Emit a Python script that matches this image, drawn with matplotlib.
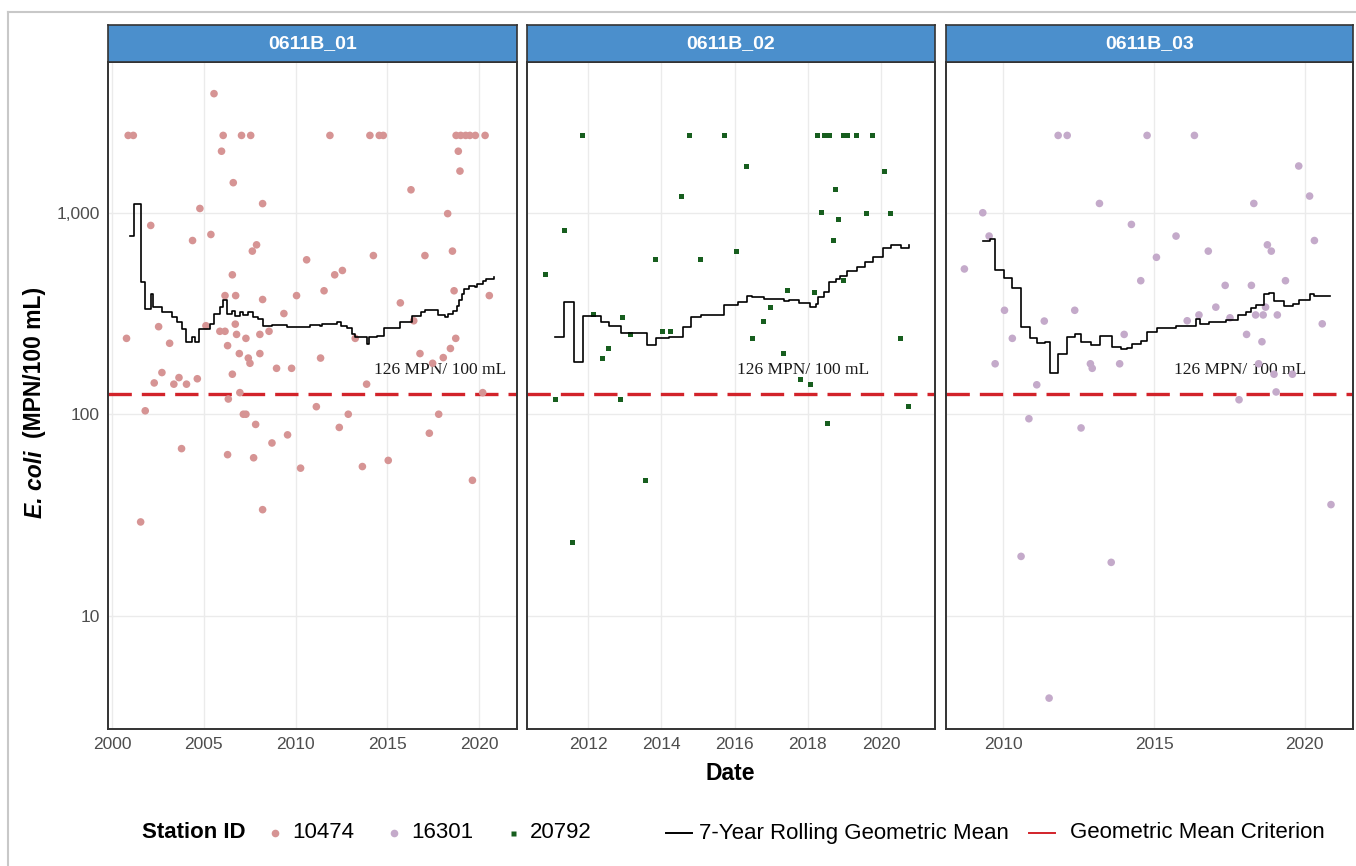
import matplotlib
matplotlib.use("Agg")
import matplotlib.pyplot as plt
from matplotlib.lines import Line2D
from matplotlib.ticker import FixedLocator, FuncFormatter, MultipleLocator, NullLocator

plt.rcParams["font.family"] = ["Liberation Sans", "DejaVu Sans"]

# ---- data: E. coli samples (decimal year, MPN/100 mL) ----
st10474_year = [2000.87, 2001.15, 2006.05, 2007.05, 2007.55, 2011.87, 2014.05, 2014.56, 2014.78,
                2018.75, 2019.0, 2019.27, 2019.5, 2019.8, 2020.33,
                2005.55, 2005.96, 2006.6, 2008.2, 2004.78, 2002.1, 2004.38, 2005.38, 2007.87, 2007.64,
                2018.87, 2018.96, 2016.29, 2018.29, 2018.55, 2017.05, 2014.24, 2010.6, 2012.55, 2012.13,
                2006.55, 2011.55, 2018.64, 2010.05, 2006.15, 2006.73, 2020.56, 2008.2, 2015.71, 2009.36,
                2016.44, 2005.11, 2002.53, 2006.71, 2008.55, 2005.87, 2006.15, 2006.78, 2008.05, 2007.29,
                2013.25, 2000.78, 2018.73, 2003.13, 2018.44, 2006.29, 2018.05, 2016.78, 2006.93, 2008.05,
                2011.36, 2007.42, 2007.51, 2017.47, 2008.96, 2009.78, 2002.71, 2003.64, 2002.29, 2003.36,
                2004.05, 2004.64, 2006.55, 2013.87, 2020.2, 2006.96, 2006.33, 2001.8, 2011.13, 2007.15,
                2007.29, 2012.87, 2017.8, 2007.82, 2012.38, 2017.29, 2009.56, 2003.78, 2006.29, 2007.71,
                2008.71, 2010.27, 2013.64, 2015.05, 2019.64, 2008.2, 2001.55]
st10474_ecoli = [2420, 2420, 2420, 2420, 2420, 2420, 2420, 2420, 2420,
                 2420, 2420, 2420, 2420, 2420, 2420,
                 3900, 2020, 1410, 1110, 1050, 865, 728, 780, 693, 645,
                 2020, 1610, 1300, 990, 645, 613, 613, 584, 517, 492,
                 492, 410, 410, 388, 388, 388, 388, 371, 357, 316,
                 291, 275, 272, 280, 258, 258, 258, 249, 249, 238,
                 238, 238, 238, 225, 212, 219, 191, 200, 200, 200,
                 190, 190, 179, 179, 169, 169, 161, 152, 143, 141,
                 141, 150, 158, 141, 128, 128, 119, 104, 109, 100,
                 100, 100, 100, 89, 86, 80.5, 79, 67.5, 63, 60.8,
                 72, 54, 55, 59, 47, 33.6, 29.2]

st20792_year = [2011.85, 2014.78, 2015.73, 2018.27, 2018.45, 2018.58, 2018.98, 2019.09, 2019.32, 2019.75,
                2016.32, 2020.09, 2014.56, 2018.74, 2018.37, 2019.59, 2020.25, 2018.83, 2011.35, 2018.7,
                2016.06, 2010.84, 2013.85, 2015.06, 2018.96, 2017.45, 2018.19, 2016.99, 2012.15, 2012.94,
                2016.78, 2013.15, 2014.02, 2014.24, 2016.49, 2020.54, 2012.56, 2012.39, 2017.33, 2017.79,
                2018.08, 2011.1, 2012.89, 2020.75, 2018.54, 2013.56, 2011.56]
st20792_ecoli = [2420, 2420, 2420, 2420, 2420, 2420, 2420, 2420, 2420, 2420,
                 1706, 1610, 1210, 1297, 1004, 990, 990, 923, 820, 728,
                 645, 492, 584, 584, 460, 410, 403, 340, 312, 301,
                 290, 249, 258, 258, 238, 238, 211, 190, 200, 149,
                 140, 118, 118, 109, 90, 47, 23]

st16301_year = [2011.82, 2012.12, 2014.77, 2016.34, 2019.8, 2020.16, 2018.31, 2013.19, 2009.32, 2014.25,
                2015.73, 2009.53, 2020.32, 2018.76, 2018.89, 2016.8, 2015.08, 2008.71, 2014.56, 2019.36,
                2017.36, 2018.23, 2017.05, 2010.04, 2012.37, 2020.58, 2018.7, 2018.37, 2018.62, 2019.09,
                2016.49, 2016.1, 2017.52, 2011.36, 2010.3, 2014.01, 2018.07, 2018.58, 2009.73, 2012.89,
                2012.95, 2013.86, 2018.47, 2018.98, 2019.59, 2011.11, 2019.05, 2017.82, 2010.85, 2012.58,
                2010.59, 2013.58, 2011.52, 2020.87]
st16301_ecoli = [2420, 2420, 2420, 2420, 1706, 1210, 1112, 1112, 1000, 875,
                 766, 766, 728, 693, 645, 645, 601, 526, 460, 460,
                 436, 436, 340, 328, 328, 281, 340, 311, 311, 311,
                 311, 291, 301, 290, 238, 249, 249, 229, 178, 178,
                 169, 178, 178, 158, 158, 140, 129, 118, 95, 85.5,
                 19.7, 18.4, 3.9, 35.6]

# 7-year rolling geometric mean per segment (value holds from each date onward)
roll01_year = [2000.96, 2001.2, 2001.55, 2001.78, 2002.11, 2002.2, 2002.69, 2003.24, 2003.51, 2003.78,
               2004.02, 2004.05, 2004.33, 2004.51, 2004.75, 2005.33, 2005.56, 2005.87, 2006.05, 2006.24,
               2006.51, 2006.69, 2006.96, 2007.15, 2007.42, 2007.69, 2007.96, 2008.2, 2008.69, 2009.51,
               2010.42, 2010.78, 2011.33, 2011.42, 2012.05, 2012.24, 2012.45, 2012.78, 2013.05, 2013.24,
               2013.6, 2013.87, 2014.02, 2014.42, 2014.82, 2015.69, 2016.33, 2016.84, 2017.05, 2017.78,
               2018.15, 2018.33, 2018.6, 2018.78, 2018.93, 2019.05, 2019.18, 2019.47, 2019.78, 2019.87,
               2020.2, 2020.36, 2020.82]
roll01_gm = [771, 1109, 452, 333, 394, 340, 321, 303, 286, 265,
             241, 229, 241, 229, 265, 281, 315, 340, 371, 315,
             327, 308, 321, 311, 321, 303, 297, 275, 278, 270,
             270, 278, 275, 281, 282, 286, 275, 267, 250, 241,
             243, 223, 241, 245, 267, 286, 306, 321, 330, 311,
             303, 315, 324, 346, 371, 396, 419, 435, 430, 444,
             461, 470, 482]

roll02_year = [2011.1, 2011.35, 2011.6, 2011.85, 2012.35, 2012.57, 2012.89, 2013.6, 2013.85, 2014.22,
               2014.58, 2014.8, 2015.07, 2015.72, 2016.08, 2016.33, 2016.48, 2016.8, 2017.35, 2017.48,
               2017.77, 2018.07, 2018.21, 2018.27, 2018.44, 2018.58, 2018.76, 2018.87, 2019.08, 2019.33,
               2019.56, 2019.77, 2020.06, 2020.28, 2020.53, 2020.75]
roll02_gm = [243, 362, 181, 306, 286, 275, 252, 221, 238, 241,
             270, 303, 311, 349, 362, 385, 380, 375, 364, 367,
             356, 340, 353, 380, 403, 452, 470, 484, 511, 537,
             569, 601, 667, 693, 667, 693]

roll03_year = [2009.33, 2009.55, 2009.73, 2010.01, 2010.29, 2010.6, 2010.88, 2011.12, 2011.39, 2011.56,
               2011.83, 2012.12, 2012.39, 2012.59, 2012.92, 2013.2, 2013.59, 2013.89, 2014.1, 2014.28,
               2014.58, 2014.78, 2015.09, 2015.72, 2016.39, 2016.51, 2016.83, 2017.38, 2017.8, 2018.05,
               2018.22, 2018.38, 2018.64, 2018.82, 2018.99, 2019.32, 2019.6, 2019.8, 2020.16, 2020.32,
               2020.84]
roll03_gm = [728, 743, 520, 475, 422, 272, 238, 225, 229, 160,
             199, 243, 250, 229, 221, 245, 215, 211, 213, 223,
             232, 257, 269, 275, 297, 281, 286, 294, 312, 321,
             337, 349, 395, 400, 366, 346, 353, 371, 394, 388,
             388]

criterion = 126
criterion_label = "126 MPN/ 100 mL"
label_year = 2017.87
label_value = 165

segments = ["0611B_01", "0611B_02", "0611B_03"]
station_ids = ["10474", "16301", "20792"]

# ---- styling ----
W, H = 1356, 866
C_PINK = "#D69494"
C_LILAC = "#C4AACA"
C_GREEN = "#175E1E"
C_RED = "#D2232A"
C_STRIP = "#4B8FCC"
C_GRID = "#EBEBEB"
C_TICK = "#4D4D4D"


def box(l, t, r, b):
    return [l / W, 1 - b / H, (r - l) / W, (b - t) / H]


panels = [
    dict(name=segments[0], px=(108, 517), xlim=(1999.77, 2022.07), step=5,
         x=st10474_year, y=st10474_ecoli, color=C_PINK, marker="o", s=30,
         rx=roll01_year, ry=roll01_gm),
    dict(name=segments[1], px=(527, 935), xlim=(2010.33, 2021.47), step=2,
         x=st20792_year, y=st20792_ecoli, color=C_GREEN, marker="s", s=13,
         rx=roll02_year, ry=roll02_gm),
    dict(name=segments[2], px=(946, 1353), xlim=(2008.1, 2021.6), step=5,
         x=st16301_year, y=st16301_ecoli, color=C_LILAC, marker="o", s=30,
         rx=roll03_year, ry=roll03_gm),
]

fig = plt.figure(figsize=(W / 100, H / 100), dpi=100)
fig.patch.set_facecolor("white")

top, bottom, strip_top = 62, 729, 25
axes = []
for i, p in enumerate(panels):
    l, r = p["px"]
    ax = fig.add_axes(box(l, top, r, bottom), sharey=axes[0] if axes else None)
    axes.append(ax)

    ax.scatter(p["x"], p["y"], s=p["s"], marker=p["marker"], color=p["color"],
               edgecolors="none", zorder=3)
    ax.step(p["rx"], p["ry"], where="post", color="black", lw=1.2, zorder=4)
    hl = ax.axhline(criterion, color=C_RED, lw=2.4, zorder=2.5)
    hl.set_dashes((7, 3))
    ax.text(label_year, label_value, criterion_label, family="Liberation Serif",
            fontsize=12.5, ha="center", va="center", color="#1a1a1a", zorder=2)

    ax.set_yscale("log")
    ax.set_ylim(2.74, 5600)
    ax.set_xlim(*p["xlim"])
    ax.xaxis.set_major_locator(MultipleLocator(p["step"]))
    ax.yaxis.set_major_locator(FixedLocator([10, 100, 1000]))
    ax.yaxis.set_minor_locator(NullLocator())
    ax.yaxis.set_major_formatter(FuncFormatter(lambda v, _: f"{v:,.0f}"))
    ax.xaxis.set_major_formatter(FuncFormatter(lambda v, _: f"{v:.0f}"))
    ax.grid(True, color=C_GRID, lw=1.0, zorder=0)
    ax.set_axisbelow(True)
    ax.tick_params(length=0, labelsize=12.5, labelcolor=C_TICK, pad=6)
    if i > 0:
        ax.tick_params(labelleft=False)
    for sp in ax.spines.values():
        sp.set_color("#333333")
        sp.set_linewidth(1.4)

    # facet strip
    sax = fig.add_axes(box(l, strip_top, r, top))
    sax.set_facecolor(C_STRIP)
    sax.set_xticks([])
    sax.set_yticks([])
    for sp in sax.spines.values():
        sp.set_color("#333333")
        sp.set_linewidth(1.2)
    sax.text(0.5, 0.5, p["name"], color="white", fontsize=14, fontweight="bold",
             ha="center", va="center", transform=sax.transAxes)

# axis titles
fig.text(730 / W + 0.0, 1 - 773 / H, "Date", fontsize=16.5, fontweight="bold",
         ha="center", va="center")
ylab1 = fig.text(35 / W, 1 - 518 / H, "E. coli", fontsize=16.5, fontweight="bold",
                 style="italic", rotation=90, rotation_mode="anchor", ha="left", va="center")
fig.canvas.draw()
ext = ylab1.get_window_extent()
ylab2 = fig.text(35 / W, (ext.y1 + 12) / H, "(MPN/100 mL)", fontsize=16.5, fontweight="bold",
                 rotation=90, rotation_mode="anchor", ha="left", va="center")

# legend drawn in pixel space
lax = fig.add_axes([0, 0, 1, 1])
lax.set_xlim(0, W)
lax.set_ylim(H, 0)
lax.axis("off")
ly = 833
lax.text(142, ly, "Station ID", fontsize=16, fontweight="bold", ha="left", va="center")
for sid, col, mk, ms, kx in zip(station_ids, [C_PINK, C_LILAC, C_GREEN], ["o", "o", "s"],
                                [5.5, 5.5, 3.6], [275, 394, 513]):
    lax.plot([kx], [ly], marker=mk, ms=ms, color=col, mec="none", ls="none")
    lax.text(kx + 17, ly, sid, fontsize=16, ha="left", va="center")
lax.plot([666, 692], [ly, ly], color="black", lw=1.4)
lax.text(699, ly, "7-Year Rolling Geometric Mean", fontsize=16, ha="left", va="center")
lax.plot([1029, 1055], [ly, ly], color=C_RED, lw=1.4)
lax.text(1070, ly, "Geometric Mean Criterion", fontsize=16, ha="left", va="center")

# thin frame around the figure
lax.add_line(Line2D([8, W], [12, 12], color="#C8C8C8", lw=1.5))
lax.add_line(Line2D([8, 8], [12, H], color="#C8C8C8", lw=1.5))

fig.savefig("out.png", dpi=100)
